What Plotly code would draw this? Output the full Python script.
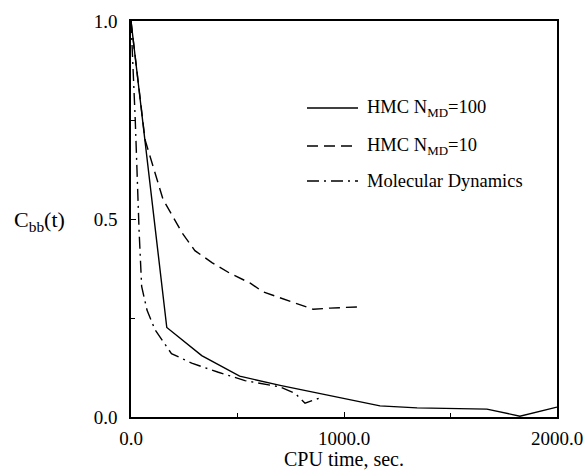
import plotly.graph_objects as go

# HMC N_MD=100 (solid)
hmc100_t = [0, 168, 332, 510, 700, 1005, 1169, 1343, 1671, 1826, 2000]
hmc100_c = [1.0, 0.226, 0.155, 0.103, 0.080, 0.045, 0.028, 0.023, 0.020, 0.002, 0.025]

# HMC N_MD=10 (dashed)
hmc10_t = [0, 66, 150, 240, 300, 380, 464, 560, 620, 732, 855, 934, 1066]
hmc10_c = [1.0, 0.70, 0.55, 0.465, 0.42, 0.39, 0.363, 0.338, 0.316, 0.295, 0.272, 0.275, 0.278]

# Molecular Dynamics (dash-dot)
md_t = [0, 20, 38, 50, 75, 113, 190, 285, 410, 535, 700, 770, 817, 897]
md_c = [1.0, 0.75, 0.47, 0.33, 0.27, 0.22, 0.16, 0.136, 0.113, 0.092, 0.076, 0.06, 0.035, 0.05]

legend_labels = ["HMC N<sub>MD</sub>=100", "HMC N<sub>MD</sub>=10", "Molecular Dynamics"]
x_ticks = [0, 1000, 2000]
x_ticklabels = ["0.0", "1000.0", "2000.0"]
y_ticks = [0, 0.5, 1.0]
y_ticklabels = ["0.0", "0.5", "1.0"]

FONT = "Liberation Serif, Times New Roman, serif"
dashes = ["solid", "11px,6px", "12px,5px,2px,5px"]

fig = go.Figure()
for t, c, d in [(hmc100_t, hmc100_c, dashes[0]), (hmc10_t, hmc10_c, dashes[1]), (md_t, md_c, dashes[2])]:
    fig.add_trace(go.Scatter(x=t, y=c, mode="lines", line=dict(color="black", width=1.4, dash=d),
                             showlegend=False))

# manual legend (paper coordinates)
W, H = 587, 470
L, R, T, B = 131, 30, 21, 53
pw, ph = W - L - R, H - T - B
def px(x):
    return (x - L) / pw
def py(y):
    return (H - B - y) / ph

rows_y = [108, 146, 181]
for lab, d, yy in zip(legend_labels, dashes, rows_y):
    fig.add_shape(type="line", xref="paper", yref="paper", x0=px(307), x1=px(358), y0=py(yy), y1=py(yy),
                  line=dict(color="black", width=1.4, dash=d))
    fig.add_annotation(xref="paper", yref="paper", x=px(365), y=py(yy), text=lab, showarrow=False,
                       xanchor="left", yanchor="middle", font=dict(family=FONT, size=18.5, color="black"))

fig.add_annotation(xref="paper", yref="paper", x=px(39), y=py(221), text="C<sub>bb</sub>(t)", showarrow=False,
                   xanchor="center", yanchor="middle", font=dict(family=FONT, size=22, color="black"))

fig.update_xaxes(range=[0, 2000], tickvals=x_ticks, ticktext=x_ticklabels, ticks="inside", ticklen=5,
                 tickcolor="black", showline=True, linecolor="black", linewidth=1.5, mirror=True,
                 showgrid=False, zeroline=False, ticklabelstandoff=3, automargin=False,
                 minor=dict(tickvals=[500, 1500], ticks="inside", ticklen=4, tickcolor="black"),
                 tickfont=dict(family=FONT, size=19, color="black"),
                 title=dict(text="CPU time, sec.", font=dict(family=FONT, size=20, color="black"), standoff=2))
fig.update_yaxes(range=[0, 1], tickvals=y_ticks, ticktext=y_ticklabels, ticks="inside", ticklen=5,
                 tickcolor="black", showline=True, linecolor="black", linewidth=1.5, mirror=True,
                 showgrid=False, zeroline=False, ticklabelstandoff=8, automargin=False,
                 minor=dict(tickvals=[0.25, 0.75], ticks="inside", ticklen=4, tickcolor="black"),
                 tickfont=dict(family=FONT, size=19, color="black"))

fig.update_layout(width=W, height=H, margin=dict(l=L, r=R, t=T, b=B), plot_bgcolor="white",
                  paper_bgcolor="white", showlegend=False)
fig.write_html("out.html")
